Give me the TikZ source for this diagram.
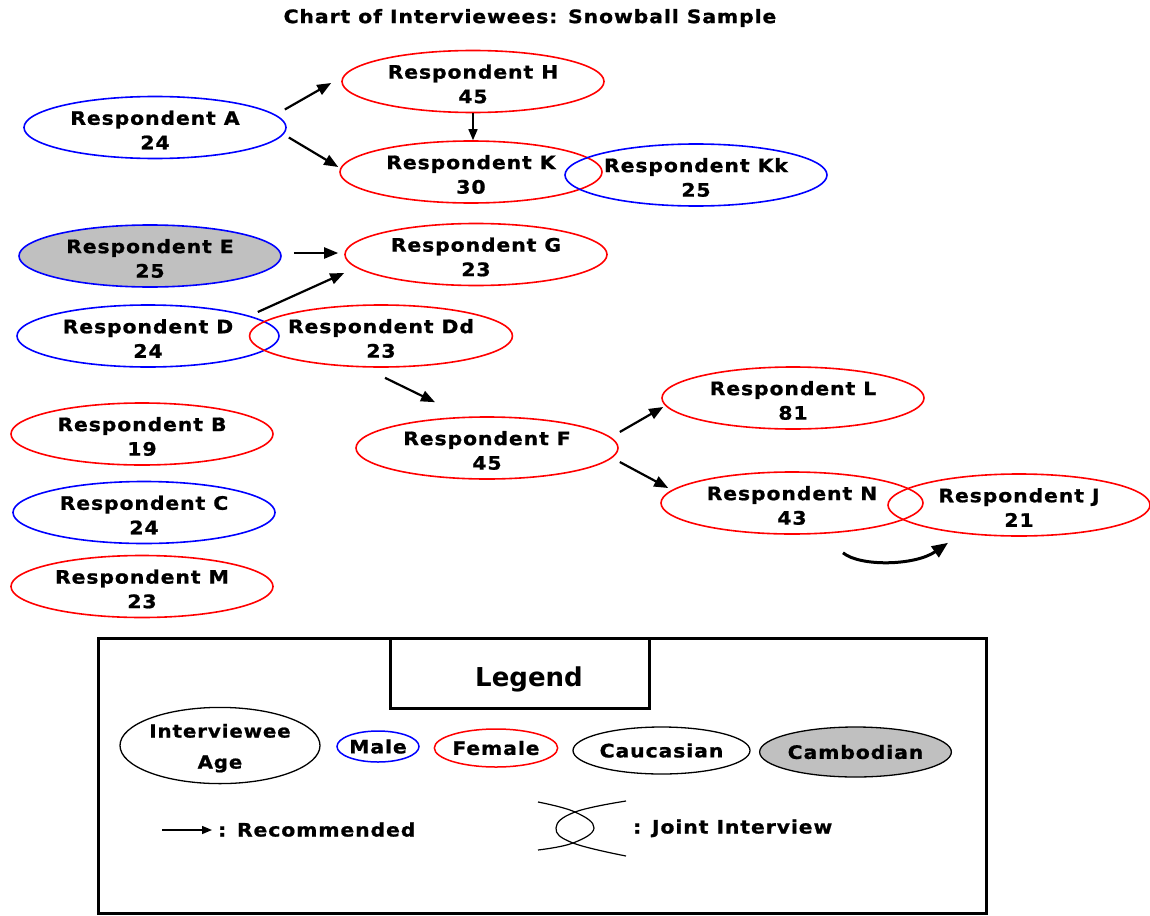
\documentclass[tikz,border=0pt]{standalone}
\usepackage{fontspec}
\newfontfamily\bodyf{DejaVu Sans}[LetterSpace=5,FakeStretch=1.1,FakeBold=1]
\newfontfamily\legf{DejaVu Sans}
\usetikzlibrary{shapes.geometric,arrows.meta,calc}
\definecolor{mblue}{RGB}{0,0,255}
\definecolor{mred}{RGB}{255,0,0}
\definecolor{mgray}{RGB}{192,192,192}
\begin{document}
\begin{tikzpicture}[x=1pt,y=-1pt,
  txt/.style={font=\bodyf\bfseries\fontsize{18.5}{24.5}\selectfont, align=center, inner sep=0},
  resp/.style={ellipse, draw, line width=1.6, minimum width=262, minimum height=62, inner sep=0, txt},
  male/.style={resp, draw=mblue},
  female/.style={resp, draw=mred},
  legell/.style={ellipse, draw, line width=1.3, inner sep=0, txt},
  arr/.style={line width=2.2, -{Triangle[length=14pt,width=11pt]}},
 ]
\fill[white] (0,0) rectangle (1150,915);
\useasboundingbox (0,0) rectangle (1150,915);
\newcommand\tl{\rule{0pt}{19pt}}

\node[txt] (title) at (530,18) {Chart of Interviewees: Snowball Sample};

\node[male] (A) at (155,127.5) {\tl Respondent A\\24};
\node[female] (H) at (473,81.5) {\tl Respondent H\\45};
\node[female] (K) at (471,172) {\tl Respondent K\\30};
\node[male] (Kk) at (696,175) {\tl Respondent Kk\\25};
\node[male, fill=mgray] (E) at (150,256) {\tl Respondent E\\25};
\node[female] (G) at (476,254.5) {\tl Respondent G\\23};
\node[male] (D) at (148,336) {\tl Respondent D\\24};
\node[female] (Dd) at (381,336) {\tl Respondent Dd\\23};
\node[female] (B) at (142,434) {\tl Respondent B\\19};
\node[male] (C) at (144,512.5) {\tl Respondent C\\24};
\node[female] (M) at (142,586.5) {\tl Respondent M\\23};
\node[female] (F) at (487,448) {\tl Respondent F\\45};
\node[female] (L) at (793,398) {\tl Respondent L\\81};
\node[female] (N) at (792,503) {\tl Respondent N\\43};
\node[female] (J) at (1019,505) {\tl Respondent J\\21};

\draw[arr] ([shift={(-2,-18)}]A.east) -- ([shift={(-10,1.5)}]H.west);
\draw[arr] ([shift={(2,10)}]A.east) -- ([shift={(-1,-5)}]K.west);
\draw[arr, line width=1.5, -{Triangle[length=11pt,width=9pt]}] (H.south) -- (H.south |- K.north);
\draw[arr] ([shift={(12,-3)}]E.east) -- ([shift={(-6,-1.5)}]G.west);
\draw[arr] ([shift={(-22,-24)}]D.east) -- ([shift={(0,18.5)}]G.west);
\draw[arr] ([shift={(4,10)}]Dd.south) -- ([shift={(-52,-14)}]F.north);
\draw[arr] ([shift={(1,-16)}]F.east) -- ([shift={(2,9)}]L.west);
\draw[arr] ([shift={(1,14)}]F.east) -- ([shift={(8,-15)}]N.west);
\draw[line width=3, -{Triangle[length=16pt,width=13pt]}] ([shift={(51,18)}]N.south) .. controls +(17,14) and +(-33,23) .. ([shift={(-71,6)}]J.south);

% legend
\node[draw, line width=3, minimum width=888, minimum height=275, inner sep=0] (legbox) at (542,775.5) {};
\node[draw, line width=3, minimum width=259, minimum height=70, inner sep=0] (legtbox) at (519.5,673) {};
\node[anchor=base, inner sep=0, font=\legf\bfseries\fontsize{26}{30}\selectfont] (legt) at (529,686) {Legend};

\node[legell, minimum width=200, minimum height=75, font=\bodyf\bfseries\fontsize{18}{31}\selectfont] (iv) at (220,745.5) {\tl Interviewee\\Age};
\node[legell, draw=mblue, line width=1.5, minimum width=82, minimum height=31] (male) at (378,746.5) {Male};
\node[legell, draw=mred, line width=1.5, minimum width=112, minimum height=38] (female) at (496,748) {Female};
\node[legell, minimum width=177, minimum height=47] (cauc) at (661.5,750.5) {Caucasian};
\node[legell, fill=mgray, minimum width=179, minimum height=50] (camb) at (855.5,752) {Cambodian};

\coordinate (recS) at (162,830);
\node[txt, anchor=base west] (rec) at (218,836.5) {: Recommended};
\draw[line width=1.5, -{Triangle[length=10pt,width=8pt]}] (recS) -- ([xshift=-6]rec.west |- recS);

\draw[line width=1.2] plot[smooth, tension=0.7] coordinates {(538,802) (575,812) (594,828) (573,843) (538,850)};
\draw[line width=1.2] plot[smooth, tension=0.7] coordinates {(626,801) (575,812) (556,828) (573,843) (626,856)};
\node[txt, anchor=base west] (joint) at (633,833.5) {: Joint Interview};
\end{tikzpicture}
\end{document}
